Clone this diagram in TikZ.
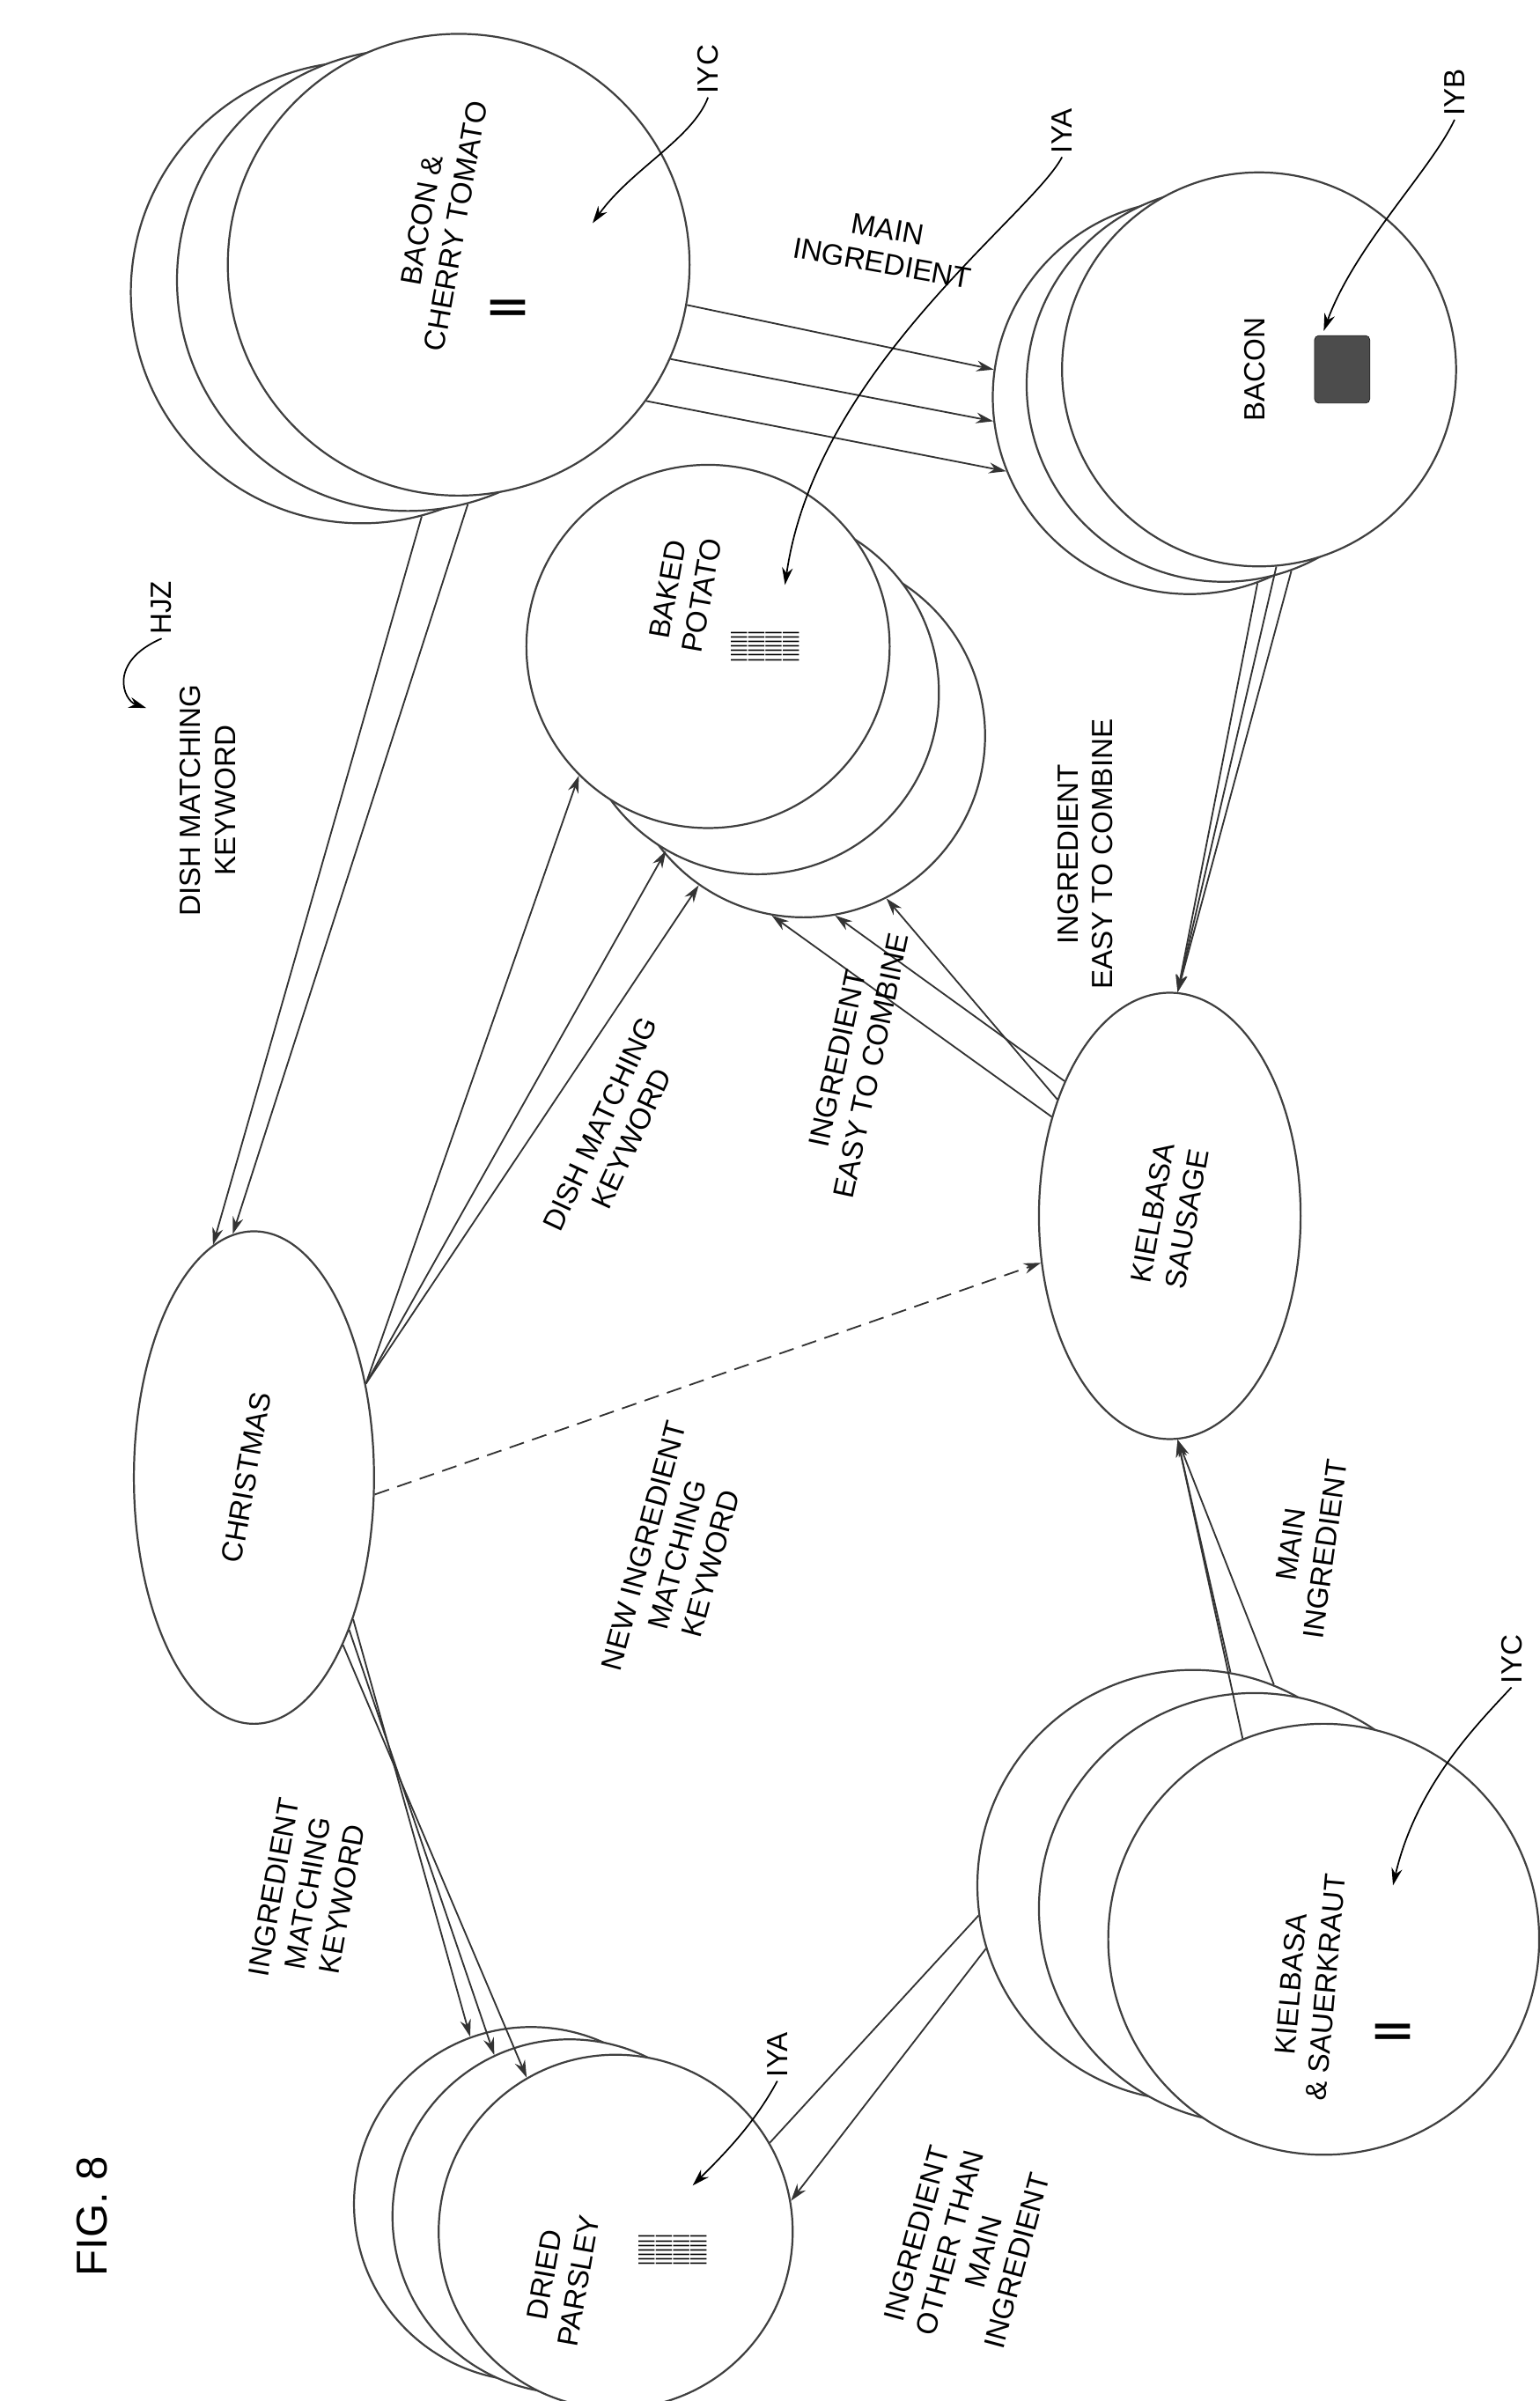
\documentclass[tikz,border=0pt]{standalone}
\usepackage{fontspec}
\setmainfont{Liberation Sans}
\usetikzlibrary{arrows.meta,shapes.geometric}
\begin{document}
\begin{tikzpicture}[x=0.05cm,y=-0.05cm,
  bub/.style={circle,draw=black!75,line width=1.8pt,fill=white,minimum size=#1*0.05cm,inner sep=0},
  ell/.style={ellipse,draw=black!75,line width=1.8pt,fill=white},
  lab/.style={font=\fontsize{27}{32}\selectfont,align=center,rotate=90},
  con/.style={line width=1.5pt,draw=black!80,-{Stealth[length=16pt,width=10pt]}},
  lin/.style={line width=1.5pt,draw=black!80},
  lead/.style={line width=1.4pt,-{Stealth[length=16pt,width=10pt]}}]
\useasboundingbox (0,0) rectangle (1000,1560);
% Bacon & Cherry Tomato
\node[bub=300] (bct3) at (235,190) {};
\node[bub=300] (bct2) at (265,182) {};
\node[bub=300] (bct) at (298,172) {};
\node[lab,rotate=-10] (bctt) at (285,145) {BACON \&\\CHERRY TOMATO};
% Baked potato
\node[bub=236] (bp3) at (522,478) {};
\node[bub=236] (bp2) at (492,450) {};
\node[bub=236] (bp) at (460,420) {};
\node[lab,rotate=-10] (bpt) at (445,385) {BAKED\\POTATO};
% Bacon
\node[bub=256] (ba3) at (773,258) {};
\node[bub=256] (ba2) at (795,250) {};
\node[bub=256] (ba) at (818,240) {};
\node[lab] (bat) at (815,240) {BACON};
% Christmas
\node[ell,minimum width=156*0.05cm,minimum height=320*0.05cm] (ch) at (165,960) {};
\node[lab,rotate=-10] (cht) at (160,960) {CHRISTMAS};
% Kielbasa sausage
\node[ell,minimum width=170*0.05cm,minimum height=290*0.05cm] (ks) at (760,790) {};
\node[lab,rotate=-10] (kst) at (760,790) {KIELBASA\\SAUSAGE};
% Kielbasa & Sauerkraut
\node[bub=280] (kk3) at (775,1225) {};
\node[bub=280] (kk2) at (815,1240) {};
\node[bub=280] (kk) at (860,1260) {};
\node[lab,rotate=-5] (kkt) at (850,1290) {KIELBASA\\\& SAUERKRAUT};
% Dried parsley
\node[bub=230] (dp3) at (345,1432) {};
\node[bub=230] (dp2) at (370,1440) {};
\node[bub=230] (dp) at (400,1450) {};
\node[lab,rotate=-10] (dpt) at (365,1480) {DRIED\\PARSLEY};
% icons
\node[font=\fontsize{34}{34}\selectfont\bfseries,rotate=90] (ic1) at (330,200) {||};
\node[font=\fontsize{34}{34}\selectfont\bfseries,rotate=90] (ic2) at (905,1320) {||};
\node[draw,fill=black!70,rounded corners=4pt,minimum width=1.8cm,minimum height=2.2cm] (ic3) at (872,240) {};
\node[font=\fontsize{16}{16}\selectfont,rotate=90,align=center,inner sep=0] (ic4) at (497,420) {|||||||\\|||||||\\|||||||\\|||||||};
\node[font=\fontsize{16}{16}\selectfont,rotate=90,align=center,inner sep=0] (ic5) at (437,1462) {|||||||\\|||||||\\|||||||\\|||||||};
% connectors
\draw[con] (bct.-10) -- (ba3.172);
\draw[con] (bct.-24) -- (ba3.187);
\draw[con] (bct.-36) -- (ba3.202);
\draw[con] (bct3.-75) -- (ch.100);
\draw[con] (bct2.-75) -- (ch.95);
\draw[con] (ch.40) -- (bp.-135);
\draw[con] (ch.40) -- (bp2.-120);
\draw[con] (ch.40) -- (bp3.-125);
\draw[con] (ks.128) -- (bp3.-80);
\draw[con] (ks.134) -- (bp3.-63);
\draw[con] (ks.140) -- (bp3.-100);
\draw[con] (ba3.-70) -- (ks.88);
\draw[con] (ba2.-70) -- (ks.88);
\draw[con] (ba.-85) -- (ks.88);
\draw[con] (kk3.80) -- (ks.-88);
\draw[con] (kk3.68) -- (ks.-88);
\draw[con] (kk.112) -- (ks.-88);
\draw[con] (ch.-55) -- (dp3.110);
\draw[con] (ch.-58) -- (dp2.115);
\draw[con] (ch.-62) -- (dp.120);
\draw[lin] (kk3.188) -- (dp.30);
\draw[con] (kk3.197) -- (dp.10);
\draw[con,dashed,dash pattern=on 14pt off 8pt] (ch.-8) -- (ks.200);
% labels
\node[lab,rotate=-100] (l1) at (575,160) {MAIN\\INGREDIENT};
\node[lab] (l2) at (135,520) {DISH MATCHING\\KEYWORD};
\node[lab,rotate=-25] (l3) at (400,735) {DISH MATCHING\\KEYWORD};
\node[lab,rotate=-12] (l4) at (555,690) {INGREDIENT\\EASY TO COMBINE};
\node[lab] (l5) at (705,555) {INGREDIENT\\EASY TO COMBINE};
\node[lab,rotate=-15] (l6) at (440,1010) {NEW INGREDIENT\\MATCHING\\KEYWORD};
\node[lab,rotate=-8] (l7) at (850,1005) {MAIN\\INGREDIENT};
\node[lab,rotate=-10] (l8) at (200,1230) {INGREDIENT\\MATCHING\\KEYWORD};
\node[lab,rotate=-15] (l9) at (628,1460) {INGREDIENT\\OTHER THAN\\MAIN\\INGREDIENT};
\node[font=\fontsize{40}{46}\selectfont,rotate=90] (fig) at (60,1440) {FIG. 8};
\node[lab] (hjz) at (105,395) {HJZ};
\node[lab] (iyc1) at (460,45) {IYC};
\node[lab] (iya1) at (690,85) {IYA};
\node[lab] (iyb) at (945,60) {IYB};
\node[lab] (iyc2) at (982,1078) {IYC};
\node[lab] (iya2) at (505,1335) {IYA};
\path (95,460) coordinate (h1) (385,145) coordinate (t1) (510,380) coordinate (t2) (860,215) coordinate (t3) (905,1225) coordinate (t4) (450,1420) coordinate (t5);
\draw[lead] (hjz.west) .. controls (70,430) and (80,455) .. (h1);
\draw[lead] (iyc1.west) .. controls (450,90) and (410,110) .. (t1);
\draw[lead] (iya1.west) .. controls (670,140) and (530,240) .. (t2);
\draw[lead] (iyb.west) .. controls (930,110) and (880,160) .. (t3);
\draw[lead] (iyc2.west) .. controls (960,1120) and (920,1160) .. (t4);
\draw[lead] (iya2.west) .. controls (490,1380) and (470,1400) .. (t5);
\end{tikzpicture}
\end{document}
